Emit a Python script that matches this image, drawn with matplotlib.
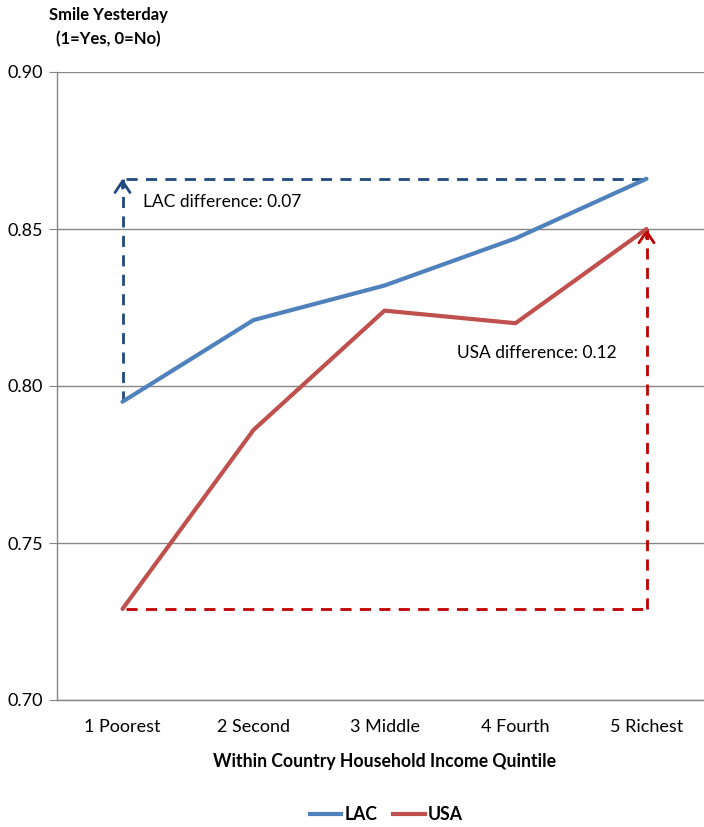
import matplotlib.pyplot as plt
from matplotlib.lines import Line2D

plt.rcParams['font.family'] = ['Lato', 'DejaVu Sans']

# data
quintiles = ["1 Poorest", "2 Second", "3 Middle", "4 Fourth", "5 Richest"]
lac = [0.795, 0.821, 0.832, 0.847, 0.866]
usa = [0.729, 0.786, 0.824, 0.820, 0.850]
yticks = [0.70, 0.75, 0.80, 0.85, 0.90]

lac_color = "#4F81BD"
usa_color = "#C0504D"
lac_dash = "#1F497D"
usa_dash = "#C00000"
grid_color = "#868686"

fig = plt.figure(figsize=(7.04, 8.27), dpi=100)
ax = fig.add_axes([57 / 704, 127 / 827, 655 / 704, 628 / 827])

x = list(range(len(quintiles)))
ax.plot(x, lac, color=lac_color, lw=3, zorder=3, solid_capstyle="round")
ax.plot(x, usa, color=usa_color, lw=3, zorder=3, solid_capstyle="round")


def diff_arrow(x0, y0, x1, y1, color):
    # dashed shaft plus a solid open arrowhead at (x1, y1)
    ax.plot([x0, x1], [y0, y1], color=color, lw=2, dashes=(4, 3), zorder=2)
    ax.annotate("", xy=(x1, y1), xytext=(x1, y1 - 0.003),
                arrowprops=dict(arrowstyle="->,head_length=0.45,head_width=0.3",
                                color=color, lw=2, mutation_scale=18,
                                shrinkA=0, shrinkB=0), zorder=2)


# LAC difference: up from poorest, across at richest level
ax.plot([x[0] + 0.03, x[-1]], [lac[-1], lac[-1]], color=lac_dash, lw=2,
        dashes=(4, 3), zorder=2)
diff_arrow(x[0], lac[0], x[0], lac[-1], lac_dash)

# USA difference: across at poorest level, up at richest
ax.plot([x[0] + 0.03, x[-1]], [usa[0], usa[0]], color=usa_dash, lw=2,
        dashes=(4, 3), zorder=2)
diff_arrow(x[-1], usa[0], x[-1], usa[-1], usa_dash)

ax.text(0.16, 0.8585, "LAC difference: %.2f" % round(lac[-1] - lac[0], 2),
        fontsize=12.5, va="center", ha="left")
ax.text(2.55, 0.8105, "USA difference: %.2f" % round(usa[-1] - usa[0], 2),
        fontsize=12.5, va="center", ha="left")

ax.set_xlim(-0.5, 4.5)
ax.set_ylim(0.70, 0.90)
ax.set_yticks(yticks)
ax.set_yticklabels(["%.2f" % v for v in yticks])
ax.set_xticks(x)
ax.set_xticklabels(quintiles)
ax.tick_params(axis="x", length=0, pad=14, labelsize=13)
ax.tick_params(axis="y", length=6, color=grid_color, pad=4, labelsize=13)
ax.yaxis.grid(True, color=grid_color, lw=1)
ax.set_axisbelow(True)
for side in ["top", "right"]:
    ax.spines[side].set_visible(False)
for side in ["left", "bottom"]:
    ax.spines[side].set_color(grid_color)
    ax.spines[side].set_linewidth(1)

ax.set_xlabel("Within Country Household Income Quintile", fontsize=12.7,
              fontweight="bold")
ax.xaxis.set_label_coords(0.5, -0.085)

fig.text(108 / 704, 1 - 27 / 827, "Smile Yesterday\n(1=Yes, 0=No)",
         fontsize=12, fontweight="bold", ha="center", va="center",
         linespacing=1.6)

handles = [Line2D([0], [0], color=lac_color, lw=3, label="LAC"),
           Line2D([0], [0], color=usa_color, lw=3, label="USA")]
leg = fig.legend(handles=handles, loc="center", ncol=2,
                 bbox_to_anchor=(386 / 704, 1 - 815 / 827), frameon=False,
                 handlelength=1.8, handletextpad=0.15, columnspacing=0.9,
                 prop={"size": 12.7, "weight": "bold"})

plt.savefig("out.png", dpi=100)
